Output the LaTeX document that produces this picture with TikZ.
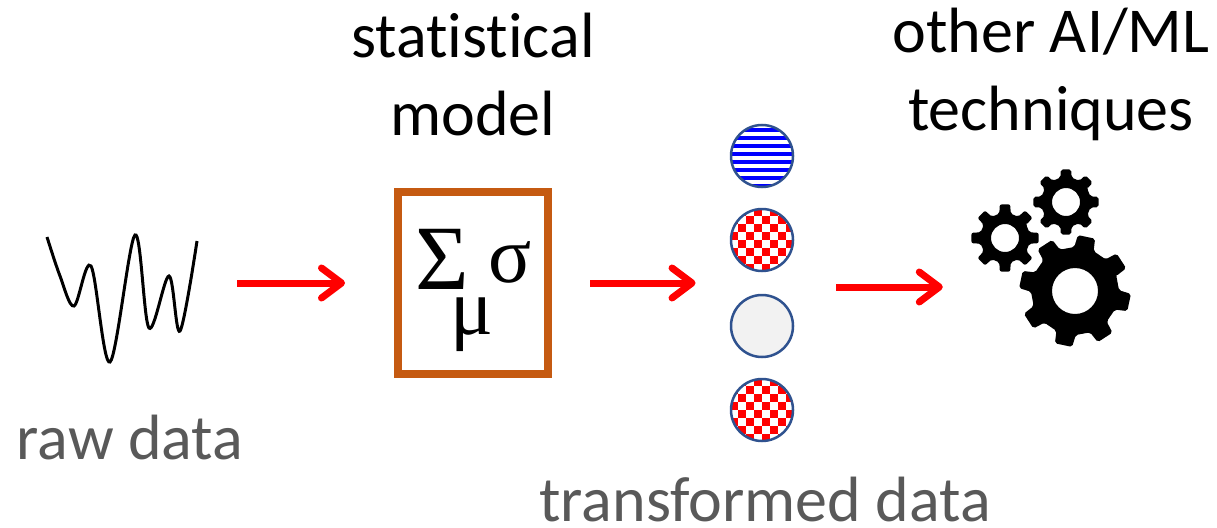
\documentclass[tikz,border=0pt]{standalone}
\usepackage{fontspec}
\setmainfont[Ligatures=NoCommon]{Carlito}
\newfontfamily\greekfont{Liberation Serif}
\usetikzlibrary{arrows.meta,fit}
\definecolor{boxbrown}{HTML}{C55A11}
\definecolor{ringblue}{HTML}{2F528F}
\definecolor{labelgrey}{HTML}{595959}
\newcommand{\gearshape}[6]{% x, y, root, outer, hole, offset
  \fill[even odd rule, rounded corners=2pt] ({#1+#3*cos(#6+328)},{#2+#3*sin(#6+328)})
    \foreach \t in {0,45,...,315}{
      -- ({#1+#3*cos(\t+#6-13)},{#2+#3*sin(\t+#6-13)})
      -- ({#1+#4*cos(\t+#6-9)},{#2+#4*sin(\t+#6-9)})
      -- ({#1+#4*cos(\t+#6+9)},{#2+#4*sin(\t+#6+9)})
      -- ({#1+#3*cos(\t+#6+13)},{#2+#3*sin(\t+#6+13)})
    } -- cycle
    (#1+#5,#2) arc[start angle=0,end angle=360,radius=#5];
}
\begin{document}
\begin{tikzpicture}[x=1pt,y=-1pt,
    bigtext/.style={font=\fontsize{64}{78}\selectfont, align=center, inner sep=0pt},
    greytext/.style={bigtext, text=labelgrey},
    greeksym/.style={inner sep=0pt, font=\greekfont\fontsize{#1}{#1}\selectfont},
    dot/.style={circle, draw=ringblue, line width=2.5pt, minimum size=62pt, inner sep=0pt},
    stripedot/.style={dot, path picture={
        \foreach \i in {-4,...,3}
          \fill[blue] ([yshift=\i*8pt]path picture bounding box.center) ++(-35,0) rectangle ++(70,-4);
      }},
    checkdot/.style={dot, path picture={
        \foreach \i in {-4,...,3}
          \foreach \j in {-4,...,3} {
            \pgfmathparse{int(mod(\i+\j+8,2))}
            \ifnum\pgfmathresult=0
              \fill[red] ([xshift=\i*8pt,yshift=\j*8pt]path picture bounding box.center) rectangle ++(8,-8);
            \fi
          }
      }},
    flow/.style={draw=red, line width=7pt, -{Straight Barb[round, length=20pt, width=30pt, line width=7pt]}}]
    \useasboundingbox (0,0) rectangle (1217,527);

    \node [minimum width=150pt, inner sep=0pt] (wave) at (122,283) {};
    \draw [line width=3pt] plot [smooth, tension=0.55] coordinates {(47,237) (60,276) (74,306) (91,266) (110,362) (135,235) (149,328) (169,276) (180,331) (197,241)};

    \node [draw=boxbrown, line width=8pt, minimum width=150pt, minimum height=182pt, inner sep=0pt] (box) at (473,283) {};
    \node [greeksym=92] (sumsym) at (442,259) {Σ};
    \node [greeksym=80] (sigmasym) at (510,262) {σ};
    \node [greeksym=80] (musym) at (472,325) {μ};

    \node [stripedot] (dota) at (762,156) {};
    \node [checkdot] (dotb) at (762,240) {};
    \node [dot, fill=black!5] (dotc) at (762,326) {};
    \node [checkdot] (dotd) at (762,410) {};
    \node [fit=(dota)(dotd), inner sep=0pt] (dots) {};

    \node [minimum width=162pt, inner sep=0pt] (gears) at (1051,287) {};
    \gearshape{1075}{291}{44}{56}{23}{12}
    \gearshape{1005}{238}{25}{34}{14}{0}
    \gearshape{1066}{202}{25}{33}{14}{0}

    \node [bigtext] (modeltext) at (473,74) {statistical\\model};
    \node [bigtext] (otherstext) at (1051,74) {other AI/ML\\techniques};
    \node [greytext] (rawtext) at (130,438) {raw data};
    \node [greytext] (transformedtext) at (765,500) {transformed data};

    \path [flow, shorten <=40pt, shorten >=49pt] (wave) -- (box);
    \path [flow, shorten <=38pt, shorten >=34pt] (box) -- (dots);
    \path [flow, shorten <=42pt, shorten >=27pt] (dots.east |- gears.west) -- (gears.west);
\end{tikzpicture}
\end{document}
